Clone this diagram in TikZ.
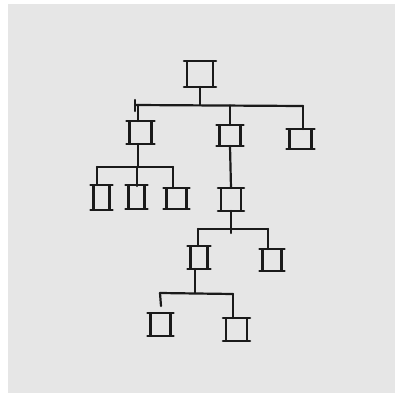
\documentclass[tikz,border=0pt]{standalone}
\usetikzlibrary{calc}
\definecolor{paper}{HTML}{E6E6E6}
\definecolor{ink}{HTML}{1A1A1A}
\tikzset{
  box/.style={draw=ink, line width=2.6pt, inner sep=0pt, outer sep=0pt, fill=none},
  ext/.style={draw=ink, line width=2.6pt, line cap=round},
  conn/.style={draw=ink, line width=2.2pt, line cap=round},
}
\newcommand\bx[5]{%
  \node[box, minimum width=#4pt, minimum height=#5pt] (#1) at (#2,#3) {};
  \draw[ext] ([xshift=-3pt]#1.north west) -- ([xshift=3pt]#1.north east);
  \draw[ext] ([xshift=-3pt]#1.south west) -- ([xshift=3pt]#1.south east);
}
\begin{document}
\begin{tikzpicture}[x=1pt,y=-1pt]
\useasboundingbox (0,0) rectangle (395,397);
\fill[white] (0,0) rectangle (395,397);
\fill[paper] (8,4) rectangle (395,393);
% boxes
\bx{root}{200}{74}{26}{26}
\bx{a}{140.5}{132.5}{22}{23}
\bx{b}{230}{135.5}{21}{21}
\bx{c}{300.5}{139}{22}{20}
\bx{aa}{101.5}{197.5}{16}{25}
\bx{ab}{136.5}{197}{16}{24}
\bx{ac}{176.5}{198.5}{20}{21}
\bx{ba}{231}{199.5}{20}{23}
\bx{baa}{199}{257.5}{17}{23}
\bx{bab}{272}{260}{19}{22}
\bx{da}{160.5}{324.5}{20}{23}
\bx{db}{236.5}{329.5}{21}{23}
% level 1 bar
\coordinate (r1) at (135,105);
\coordinate (r2) at (303,106);
\draw[conn] (root.south) -- (root.south |- r1);
\draw[conn] (r1) -- (r2);
\draw[conn] (135,100) -- (135,111);
\draw[conn] (138,105) -- (138,121);
\draw[conn] (230,105.5) -- (b.north);
\draw[conn] (r2) -- (r2 |- c.north);
% a children
\coordinate (a1) at (97,167);
\coordinate (a2) at (173,167);
\draw[conn] (138,144) -- (138,167);
\draw[conn] (a1) -- (a2);
\draw[conn] (a1) -- (a1 |- aa.north);
\draw[conn] (137,167) -- (137,186);
\draw[conn] (a2) -- (a2 |- ac.north);
% b chain
\draw[conn] (b.south) -- (231,188);
\coordinate (b1) at (198,229);
\coordinate (b2) at (268,229);
\draw[conn] (231,211) -- (231,233);
\draw[conn] (b1) -- (b2);
\draw[conn] (b1) -- (b1 |- baa.north);
\draw[conn] (b2) -- (b2 |- bab.north);
% baa children
\coordinate (d1) at (160,293);
\coordinate (d2) at (233,294);
\draw[conn] (195,269) -- (195,293);
\draw[conn] (d1) -- (d2);
\draw[conn] (d1) -- (161,306);
\draw[conn] (d2) -- (d2 |- db.north);
\end{tikzpicture}
\end{document}
